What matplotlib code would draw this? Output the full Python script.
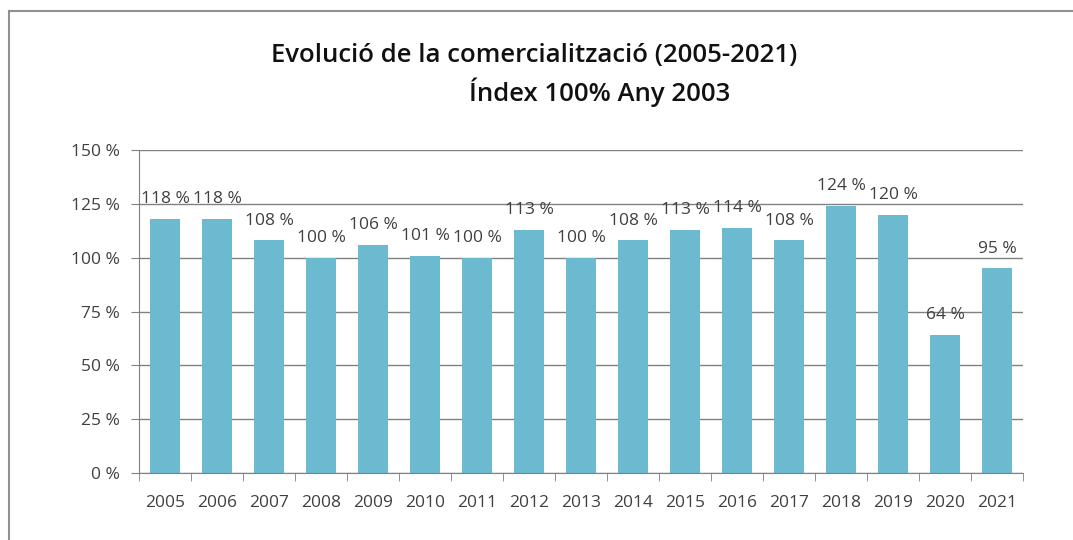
import matplotlib.pyplot as plt
from matplotlib.lines import Line2D

# Data
years = ['2005', '2006', '2007', '2008', '2009', '2010', '2011', '2012', '2013',
         '2014', '2015', '2016', '2017', '2018', '2019', '2020', '2021']
values = [118, 118, 108, 100, 106, 101, 100, 113, 100, 108, 113, 114, 108, 124, 120, 64, 95]
yticks = [0, 25, 50, 75, 100, 125, 150]

plt.rcParams['font.family'] = ['Open Sans', 'DejaVu Sans']

fig = plt.figure(figsize=(10.73, 5.40), dpi=100)
ax = fig.add_axes([139 / 1073, 1 - 473 / 540, (1023 - 139) / 1073, (473 - 150) / 540])

x = list(range(len(years)))
ax.bar(x, values, width=0.58, color='#6BBAD0', zorder=2)

# data labels above the bars
for xi, v in zip(x, values):
    ax.text(xi, v + 5.5, f'{v} %', ha='center', va='bottom', fontsize=12.5,
            color='#404040', zorder=3)

ax.set_xlim(-0.5, len(years) - 0.5)
ax.set_ylim(0, 150)
ax.set_yticks(yticks)
ax.set_yticklabels([f'{t} %' for t in yticks], fontsize=12.5, color='#404040')
ax.set_xticks(x)
ax.set_xticklabels(years, fontsize=12.5, color='#404040')
ax.set_xticks([i - 0.5 for i in range(len(years) + 1)], minor=True)

ax.grid(axis='y', color='#808080', linewidth=1, zorder=1)
ax.tick_params(axis='x', which='major', length=0, pad=16)
ax.tick_params(axis='x', which='minor', length=6, color='#808080', direction='out')
ax.tick_params(axis='y', length=6, color='#808080', pad=8)

for side in ['top', 'right']:
    ax.spines[side].set_visible(False)
ax.spines['left'].set_color('#808080')
ax.spines['bottom'].set_color('#808080')

# title in two lines
fig.text(534 / 1073, 1 - 55 / 540, 'Evolució de la comercialització (2005-2021)',
         ha='center', va='center', fontsize=18.5, fontweight='semibold', color='#111111')
fig.text(600 / 1073, 1 - 92 / 540, 'Índex 100% Any 2003',
         ha='center', va='center', fontsize=18.5, fontweight='semibold', color='#111111')

# outer frame (only left and top visible in the picture)
fig.add_artist(Line2D([8.5 / 1073, 8.5 / 1073], [0, 1 - 10.5 / 540],
                      transform=fig.transFigure, color='#909090', linewidth=1.5))
fig.add_artist(Line2D([8.5 / 1073, 1], [1 - 10.5 / 540, 1 - 10.5 / 540],
                      transform=fig.transFigure, color='#909090', linewidth=1.5))

fig.savefig('out.png', dpi=100)
